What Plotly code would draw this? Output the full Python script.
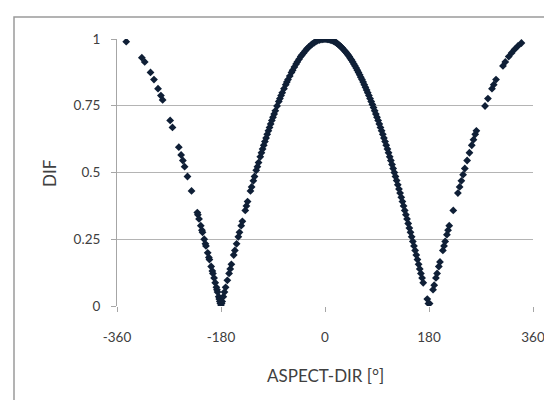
import plotly.graph_objects as go

# ASPECT-DIR [°] values
aspect_left = [-344, -317, -312, -302, -296, -289, -284, -281, -268, -264, -253, -249, -246, -243,
               -238, -231, -221, -220, -218, -215, -213, -212, -209, -207, -206, -203, -201, -200,
               -197, -195, -194, -192, -190, -188, -187, -186, -184, -183, -182, -181, -180]
dif_left = [0.990, 0.930, 0.914, 0.875, 0.848, 0.814, 0.788, 0.772, 0.695, 0.669, 0.595, 0.566, 0.545, 0.522,
            0.485, 0.431, 0.350, 0.342, 0.326, 0.301, 0.284, 0.276, 0.250, 0.233, 0.225, 0.199, 0.182, 0.174,
            0.148, 0.131, 0.122, 0.105, 0.087, 0.070, 0.061, 0.052, 0.035, 0.026, 0.017, 0.009, 0.000]

aspect_rise = [-179, -178, -176, -174, -172, -169, -166, -164, -162, -158, -156, -153, -150, -148,
               -145, -143, -138, -136, -134, -129, -127, -124, -122, -119, -117, -115, -112, -110,
               -108, -106, -104, -102, -100, -98, -96, -94, -92, -90, -88, -86, -83, -80, -78, -76,
               -74, -71, -68, -66, -64, -61, -58, -56, -53, -50, -48, -45, -42, -40, -37, -34, -31,
               -28, -25, -22, -19, -16, -13, -10, -7, -4, -2, 0]
dif_rise = [0.009, 0.017, 0.035, 0.052, 0.070, 0.096, 0.122, 0.139, 0.156, 0.191, 0.208, 0.233, 0.259, 0.276,
            0.301, 0.317, 0.358, 0.375, 0.391, 0.431, 0.446, 0.469, 0.485, 0.508, 0.522, 0.537, 0.559, 0.574,
            0.588, 0.602, 0.616, 0.629, 0.643, 0.656, 0.669, 0.682, 0.695, 0.707, 0.719, 0.731, 0.749, 0.766,
            0.777, 0.788, 0.799, 0.814, 0.829, 0.839, 0.848, 0.861, 0.875, 0.883, 0.895, 0.906, 0.914, 0.924,
            0.934, 0.940, 0.948, 0.956, 0.964, 0.970, 0.976, 0.982, 0.986, 0.990, 0.994, 0.996, 0.998, 0.999,
            1.000, 1.000]

aspect_fall = [2, 4, 6, 8, 10, 12, 14, 16, 18, 20, 22, 24, 26, 28, 30, 32, 34, 36, 38, 40, 42, 44, 46, 48,
               50, 52, 54, 56, 58, 60, 62, 64, 66, 68, 70, 72, 74, 76, 78, 80, 82, 84, 86, 88, 90, 92, 94,
               96, 98, 100, 102, 104, 106, 108, 110, 112, 114, 116, 118, 120, 122, 124, 126, 128, 130, 132,
               134, 136, 138, 140, 142, 144, 146, 148, 150, 152, 154, 156, 158, 160, 162, 164, 166, 168,
               170, 177, 179]
dif_fall = [1.000, 0.999, 0.999, 0.998, 0.996, 0.995, 0.993, 0.990, 0.988, 0.985, 0.982, 0.978, 0.974,
            0.970, 0.966, 0.961, 0.956, 0.951, 0.946, 0.940, 0.934, 0.927, 0.921, 0.914, 0.906, 0.899, 0.891,
            0.883, 0.875, 0.866, 0.857, 0.848, 0.839, 0.829, 0.819, 0.809, 0.799, 0.788, 0.777, 0.766, 0.755,
            0.743, 0.731, 0.719, 0.707, 0.695, 0.682, 0.669, 0.656, 0.643, 0.629, 0.616, 0.602, 0.588, 0.574,
            0.559, 0.545, 0.530, 0.515, 0.500, 0.485, 0.470, 0.454, 0.438, 0.423, 0.407, 0.391, 0.375, 0.358,
            0.342, 0.326, 0.309, 0.292, 0.276, 0.259, 0.242, 0.225, 0.208, 0.191, 0.174, 0.156, 0.139, 0.122,
            0.105, 0.087, 0.026, 0.009]

aspect_right = [181, 187, 189, 192, 194, 197, 199, 204, 206, 208, 211, 213, 215, 222, 230, 233, 236, 239,
                242, 246, 250, 254, 257, 260, 262, 277, 282, 289, 292, 296, 308, 312, 318, 323, 328, 334, 340]
dif_right = [0.009, 0.061, 0.078, 0.105, 0.122, 0.148, 0.165, 0.208, 0.225, 0.242, 0.267, 0.284, 0.301,
             0.358, 0.423, 0.446, 0.469, 0.492, 0.515, 0.545, 0.574, 0.602, 0.623, 0.643, 0.656, 0.749,
             0.777, 0.814, 0.829, 0.848, 0.899, 0.914, 0.934, 0.948, 0.961, 0.974, 0.985]

x_ticks = [-360, -180, 0, 180, 360]
y_ticks = [0, 0.25, 0.5, 0.75, 1]
y_tick_labels = ["0", "0.25", "0.5", "0.75", "1"]

x_vals = aspect_left + aspect_rise + aspect_fall + aspect_right
y_vals = dif_left + dif_rise + dif_fall + dif_right

FONT = "Lato"
TXT = "#404040"

fig = go.Figure()
fig.add_trace(go.Scatter(
    x=x_vals, y=y_vals, mode="markers",
    marker=dict(symbol="diamond", size=6, color="#0f1f36", line=dict(width=0)),
    showlegend=False, hoverinfo="x+y",
))

L, R, T, B = 109, 525, 31, 298
W, H = 552, 400
pw, ph = R - L, B - T

def px2paper_x(px):
    return (px - L) / pw

def py2paper_y(py):
    return (B - py) / ph

fig.update_layout(
    width=W, height=H,
    margin=dict(l=L, r=W - R, t=T, b=H - B, pad=0),
    paper_bgcolor="white", plot_bgcolor="white",
    font=dict(family=FONT, size=13.5, color=TXT),
    xaxis=dict(
        range=[-360, 360], tickmode="array", tickvals=x_ticks,
        ticktext=[str(v) for v in x_ticks],
        showgrid=False, zeroline=False, showline=False,
        ticks="outside", ticklen=5, tickcolor="#a6a6a6", tickwidth=1,
        ticklabelstandoff=14,
        tickfont=dict(family=FONT, size=13.5, color=TXT),
    ),
    yaxis=dict(
        range=[0, 1], tickmode="array", tickvals=y_ticks, ticktext=y_tick_labels,
        showgrid=True, gridcolor="#b4b4b4", gridwidth=1,
        zeroline=False, showline=True, linecolor="#a6a6a6", linewidth=1,
        ticks="outside", ticklen=5, tickcolor="#a6a6a6", tickwidth=1,
        ticklabelstandoff=8,
        tickfont=dict(family=FONT, size=13.5, color=TXT),
    ),
    annotations=[
        dict(text="ASPECT-DIR [°]", xref="paper", yref="paper",
             x=px2paper_x(317), y=py2paper_y(367), xanchor="center", yanchor="middle",
             showarrow=False, font=dict(family=FONT, size=17, color=TXT)),
        dict(text="DIF", xref="paper", yref="paper", textangle=-90,
             x=px2paper_x(41), y=py2paper_y(165), xanchor="center", yanchor="middle",
             showarrow=False, font=dict(family=FONT, size=17, color=TXT)),
    ],
    shapes=[
        dict(type="rect", xref="paper", yref="paper",
             x0=px2paper_x(6), x1=px2paper_x(550), y0=py2paper_y(405), y1=py2paper_y(9),
             line=dict(color="#9a9a9a", width=1.5), fillcolor="rgba(0,0,0,0)", layer="below"),
    ],
)

fig.write_html("out.html")
